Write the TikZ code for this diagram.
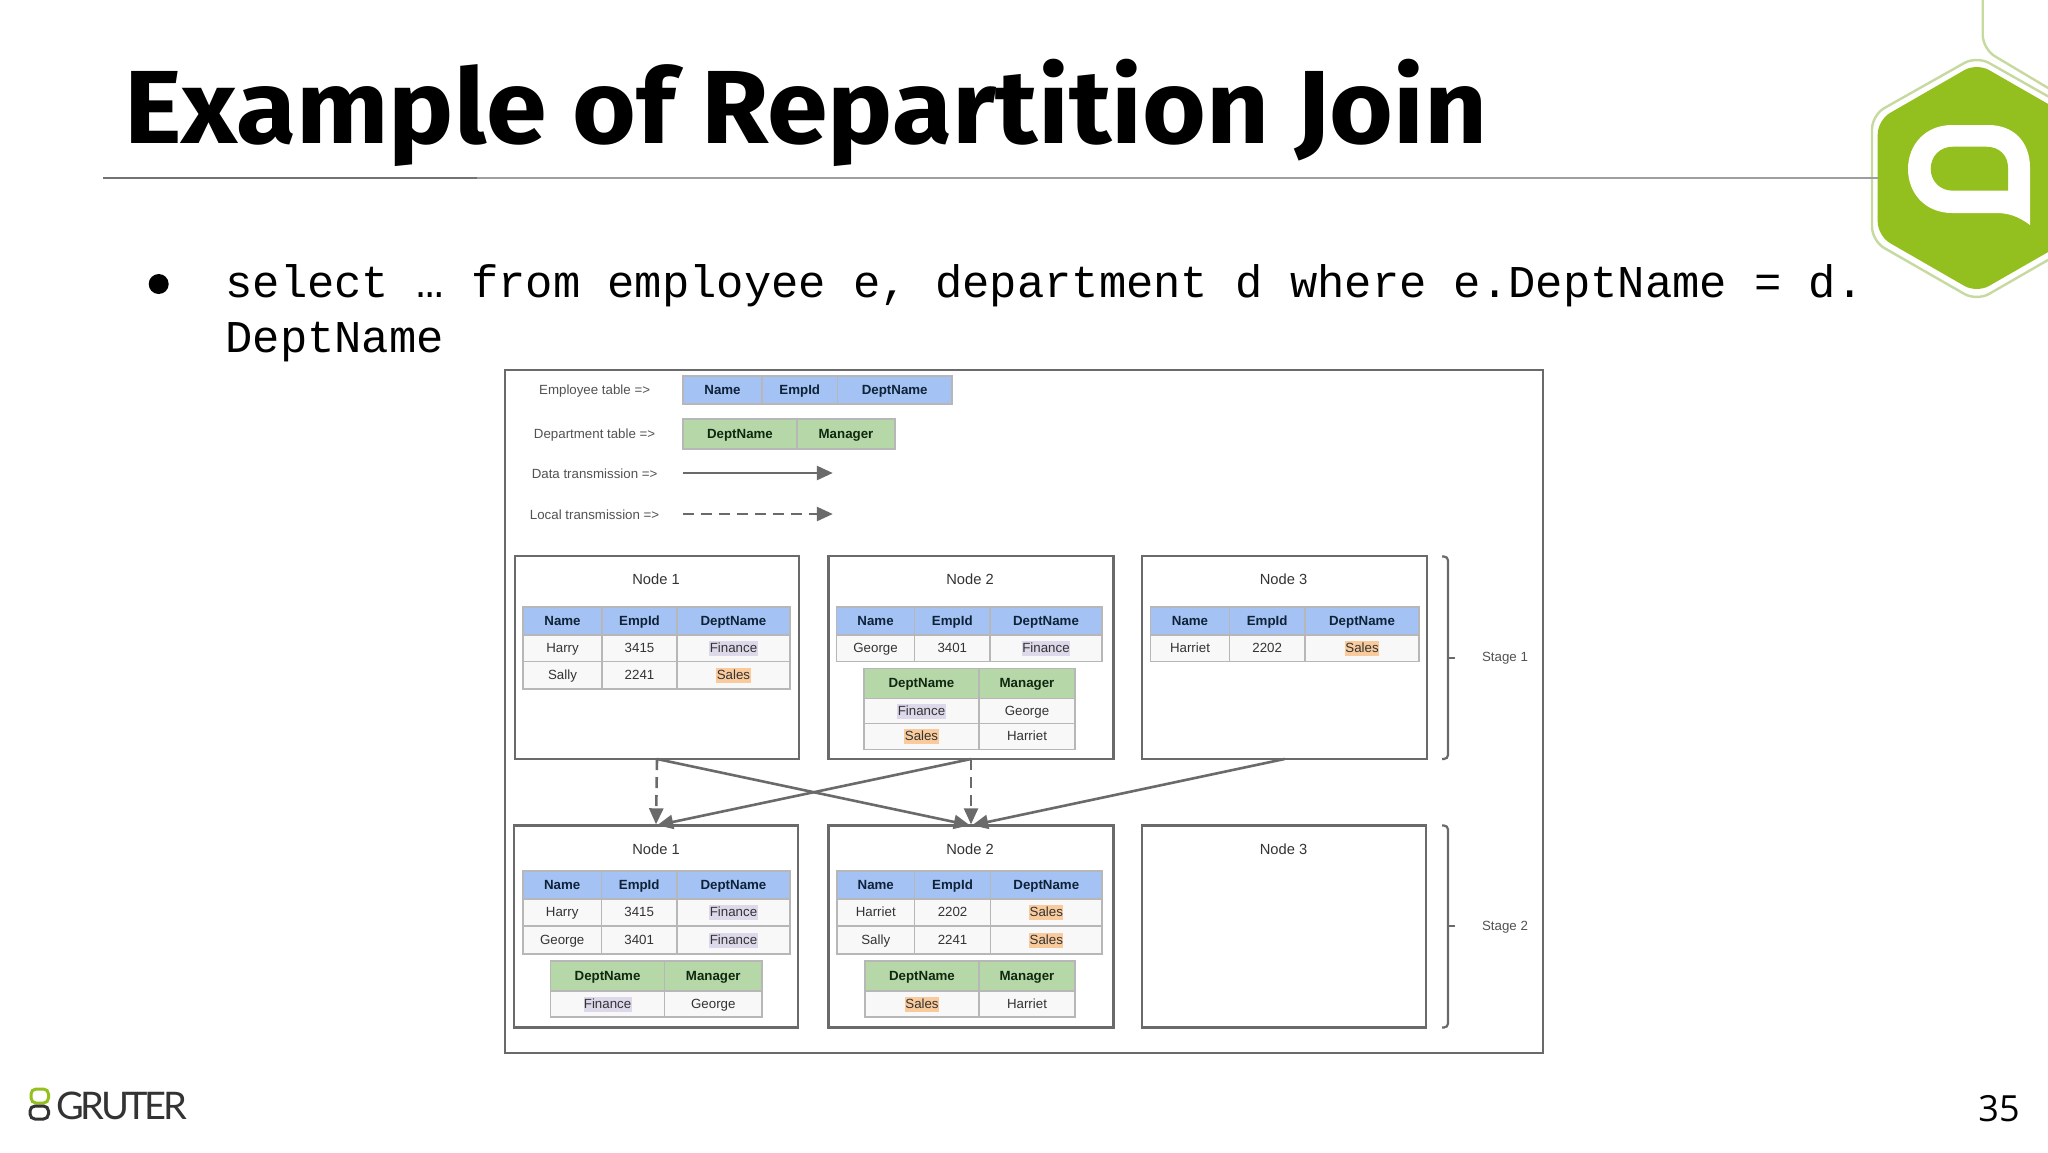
\documentclass[tikz,border=0pt]{standalone}
\usepackage{fontspec}
\usepackage{graphicx}
\setmainfont{Liberation Sans}
\newfontfamily\titlefont{Fira Sans}[UprightFont=* Bold]
\newfontfamily\monofont{Liberation Mono}
\newfontfamily\numfont{Open Sans}
\newfontfamily\logofont{Lato}[LetterSpace=-9]
\usetikzlibrary{arrows.meta,calc}
\definecolor{hdrblue}{HTML}{A4C2F4}
\definecolor{hdrgreen}{HTML}{B6D7A8}
\definecolor{rowbg}{HTML}{F8F8F8}
\definecolor{gridc}{HTML}{B7B7B7}
\definecolor{framec}{HTML}{6A6A6A}
\definecolor{finc}{HTML}{DDD8EA}
\definecolor{salc}{HTML}{F9CB9C}
\definecolor{lime}{HTML}{93C01F}
\definecolor{limepale}{HTML}{C6DAA0}
\definecolor{hdrink}{HTML}{0E2238}
\definecolor{hdrinkg}{HTML}{10280F}
\definecolor{bodyink}{HTML}{333333}
\tikzset{
  tx/.style={inner sep=0pt,text height=5.9pt,text depth=1.5pt,font=\fontsize{6.65}{8}\selectfont,text=bodyink},
  bluehdr/.style={fill=hdrblue,draw=gridc,line width=.6pt},
  greenhdr/.style={fill=hdrgreen,draw=gridc,line width=.6pt},
  datarow/.style={fill=rowbg,draw=gridc,line width=.6pt},
  nodebox/.style={draw=framec,line width=1.3pt,fill=white,inner sep=0pt,outer sep=0pt,anchor=north west},
  nodetitle/.style={inner sep=0pt,text height=5.3pt,text depth=0pt,font=\fontsize{7.35}{9}\selectfont,text=bodyink},
  legendtxt/.style={inner sep=0pt,text height=5.9pt,text depth=1.5pt,font=\fontsize{6.65}{8}\selectfont,text=bodyink!85},
  conn/.style={draw=framec,line width=1.3pt,shorten >=.6pt,-{Triangle[width=7pt,length=8pt]}},
  localconn/.style={conn,dash pattern=on 5.5pt off 3.5pt},
  bracket/.style={draw=framec,line width=1.1pt,rounded corners=2pt},
}
\newcommand{\HB}[1]{\textcolor{hdrink}{\textbf{#1}}}
\newcommand{\HG}[1]{\textcolor{hdrinkg}{\textbf{#1}}}
\newcommand{\Fin}{{\setlength{\fboxsep}{.2pt}\colorbox{finc}{\rule[-1.4pt]{0pt}{7pt}Finance}}}
\newcommand{\Sal}{{\setlength{\fboxsep}{.2pt}\colorbox{salc}{\rule[-1.4pt]{0pt}{7pt}Sales}}}
% cols: \threecols{prefix}{style}{y0}{y1}{t1}{t2}{t3}
\newcommand{\setthree}[4]{\def\xa{#1}\def\xb{#2}\def\xc{#3}\def\xd{#4}}
\newcommand{\settwo}[3]{\def\xa{#1}\def\xb{#2}\def\xc{#3}}
\newcommand{\threecols}[7]{%
  \path[#2] (\xa,#3) rectangle node[tx] (#1a) {#5} (\xb,#4);
  \path[#2] (\xb,#3) rectangle node[tx] (#1b) {#6} (\xc,#4);
  \path[#2] (\xc,#3) rectangle node[tx] (#1c) {#7} (\xd,#4);}
\newcommand{\twocols}[6]{%
  \path[#2] (\xa,#3) rectangle node[tx] (#1a) {#5} (\xb,#4);
  \path[#2] (\xb,#3) rectangle node[tx] (#1b) {#6} (\xc,#4);}
\newcommand{\emphead}[3]{\threecols{#1}{bluehdr}{#2}{#3}{\HB{Name}}{\HB{EmpId}}{\HB{DeptName}}}
\newcommand{\depthead}[3]{\twocols{#1}{greenhdr}{#2}{#3}{\HG{DeptName}}{\HG{Manager}}}
\begin{document}
\begin{tikzpicture}[x=.5pt,y=-.5pt]
\useasboundingbox (0,0) rectangle (2048,1152);
\clip (0,0) rectangle (2048,1152);
\fill[white] (0,0) rectangle (2048,1152);

% logo hexagons
\draw[limepale,line width=1.2pt,rounded corners=7pt] (1982.7,-10) -- (1982.7,49) -- (2100,119);
\draw[limepale,line width=1.2pt,rounded corners=7pt] (1976.7,56) -- (2081,115) -- (2081,241) -- (1976.7,301) -- (1872,241) -- (1872,115) -- cycle;
\fill[lime,rounded corners=7pt] (1976.7,63) -- (2076,120) -- (2076,236) -- (1976.7,293) -- (1877.7,236) -- (1877.7,120) -- cycle;
\fill[white] (1952,125) -- (1988,125) .. controls (2014,125) and (2030,142) .. (2030,168) -- (2030,225) .. controls (2018,216) and (2008,213) .. (1996,213) -- (1952,213) .. controls (1926,213) and (1908,194) .. (1908,169) .. controls (1908,144) and (1926,125) .. (1952,125) -- cycle;
\fill[lime] (1953,146.7) -- (1986,146.7) .. controls (2000,146.7) and (2008,156) .. (2008,168) -- (2008,190.7) -- (1953,190.7) .. controls (1940,190.7) and (1930.7,181) .. (1930.7,169) .. controls (1930.7,156) and (1940,146.7) .. (1953,146.7) -- cycle;

% title and rule
\node[anchor=base west,inner sep=0pt,text=black] (title) at (124,143) {\scalebox{1.0525}[1]{\titlefont\fontsize{52}{60}\selectfont Example of Repartition Join}};
\draw[draw=black!55,line width=.8pt] (103,178) -- (477,178);
\draw[draw=black!38,line width=.8pt] (477,178) -- (1878,178);

% body text
\fill[black] (158.7,284) circle (10);
\node[anchor=base west,inner sep=0pt,text=black] (bodyone) at (225,297) {\monofont\fontsize{22.75}{28}\selectfont select … from employee e, department d where e.DeptName = d.};
\node[anchor=base west,inner sep=0pt,text=black] (bodytwo) at (225,352) {\monofont\fontsize{22.75}{28}\selectfont DeptName};

% outer frame
\draw[draw=framec,line width=1pt] (505,369.5) rectangle (1543,1053);

% legend
\node[legendtxt] (lgemp) at (594.6,390) {Employee table =>};
\node[legendtxt] (lgdep) at (594.6,434) {Department table =>};
\node[legendtxt] (lgdata) at (594.6,474.5) {Data transmission =>};
\node[legendtxt] (lgloc) at (594.6,515) {Local transmission =>};
\setthree{683}{762}{837.5}{952}
\emphead{lemp}{376}{404}
\settwo{683}{797}{895}
\depthead{ldep}{419}{449}
\coordinate (dataA) at (682.5,473);
\coordinate (dataB) at (834,473);
\coordinate (locA) at (682.5,514);
\coordinate (locB) at (834,514);
\draw[conn] (dataA) -- (dataB);
\draw[localconn] (locA) -- (locB);

% stage 1 boxes
\node[nodebox,minimum width=142pt,minimum height=101.5pt] (sa) at (515,556) {};
\node[nodebox,minimum width=142.5pt,minimum height=101.5pt] (sb) at (828.5,556) {};
\node[nodebox,minimum width=142.5pt,minimum height=101.5pt] (sc) at (1142,556) {};
% stage 2 boxes
\node[nodebox,minimum width=142pt,minimum height=101pt] (ta) at (514,825.5) {};
\node[nodebox,minimum width=142.5pt,minimum height=101pt] (tb) at (828.5,825.5) {};
\node[nodebox,minimum width=142pt,minimum height=101pt] (tc) at (1142,825.5) {};

\node[nodetitle] (sat) at (656,579.5) {Node 1};
\node[nodetitle] (sbt) at (970,579.5) {Node 2};
\node[nodetitle] (sct) at (1283.5,579.5) {Node 3};
\node[nodetitle] (tat) at (656,849) {Node 1};
\node[nodetitle] (tbt) at (970,849) {Node 2};
\node[nodetitle] (tct) at (1283.5,849) {Node 3};

% stage 1 node 1
\setthree{523}{602}{677}{790}
\emphead{pa}{607}{635}
\threecols{pb}{datarow}{635}{661.7}{Harry}{3415}{\Fin}
\threecols{pc}{datarow}{661.7}{689}{Sally}{2241}{\Sal}
% stage 1 node 2
\setthree{836.5}{914.6}{990}{1102}
\emphead{qa}{607}{635}
\threecols{qb}{datarow}{635}{661.7}{George}{3401}{\Fin}
\settwo{864}{979}{1075}
\depthead{qc}{668.3}{698.3}
\twocols{qd}{datarow}{698.3}{723.7}{\Fin}{George}
\twocols{qe}{datarow}{723.7}{749.3}{\Sal}{Harriet}
% stage 1 node 3
\setthree{1150.7}{1229.3}{1305}{1419}
\emphead{ra}{607}{635}
\threecols{rb}{datarow}{635}{661.5}{Harriet}{2202}{\Sal}
% stage 2 node 1
\setthree{523}{601.4}{677}{790}
\emphead{ua}{871}{899}
\threecols{ub}{datarow}{899}{926}{Harry}{3415}{\Fin}
\threecols{uc}{datarow}{926}{954}{George}{3401}{\Fin}
\settwo{550.5}{664.6}{762}
\depthead{ud}{961}{991}
\twocols{ue}{datarow}{991}{1017}{\Fin}{George}
% stage 2 node 2
\setthree{837}{914.5}{990.6}{1102}
\emphead{va}{871}{899}
\threecols{vb}{datarow}{899}{926}{Harriet}{2202}{\Sal}
\threecols{vc}{datarow}{926}{954}{Sally}{2241}{\Sal}
\settwo{865}{979}{1075}
\depthead{vd}{961}{991}
\twocols{ve}{datarow}{991}{1017}{\Sal}{Harriet}

% connectors
\draw[localconn] (sa.south) -- (ta.north);
\draw[localconn] (sb.south) -- (tb.north);
\draw[conn] (sa.south) -- (tb.north);
\draw[conn] (sb.south) -- (ta.north);
\draw[conn] (sc.south) -- (tb.north);

% brackets
\draw[bracket] (1442,556.5) -- (1448,556.5) -- (1448,759) -- (1442,759);
\draw[draw=framec,line width=1.1pt] (1448,658) -- (1455,658);
\draw[bracket] (1442,825.5) -- (1448,825.5) -- (1448,1027.5) -- (1442,1027.5);
\draw[draw=framec,line width=1.1pt] (1448,926) -- (1455,926);
\node[legendtxt] (stA) at (1505,657) {Stage 1};
\node[legendtxt] (stB) at (1505,926) {Stage 2};

% footer logo
\draw[draw=lime,line width=1.5pt,rounded corners=2.5pt] (31,1089) rectangle (48.5,1103);
\draw[draw=black!80,line width=1.5pt,rounded corners=2.5pt] (30,1106) rectangle (48.5,1119);
\node[anchor=base west,inner sep=0pt,text=black!80] (gruter) at (56,1119) {\logofont\fontsize{19}{22}\selectfont GRUTER};
\node[anchor=base,inner sep=0pt,text=black] (pageno) at (1999,1121) {\numfont\fontsize{18}{22}\selectfont 35};
\end{tikzpicture}
\end{document}
